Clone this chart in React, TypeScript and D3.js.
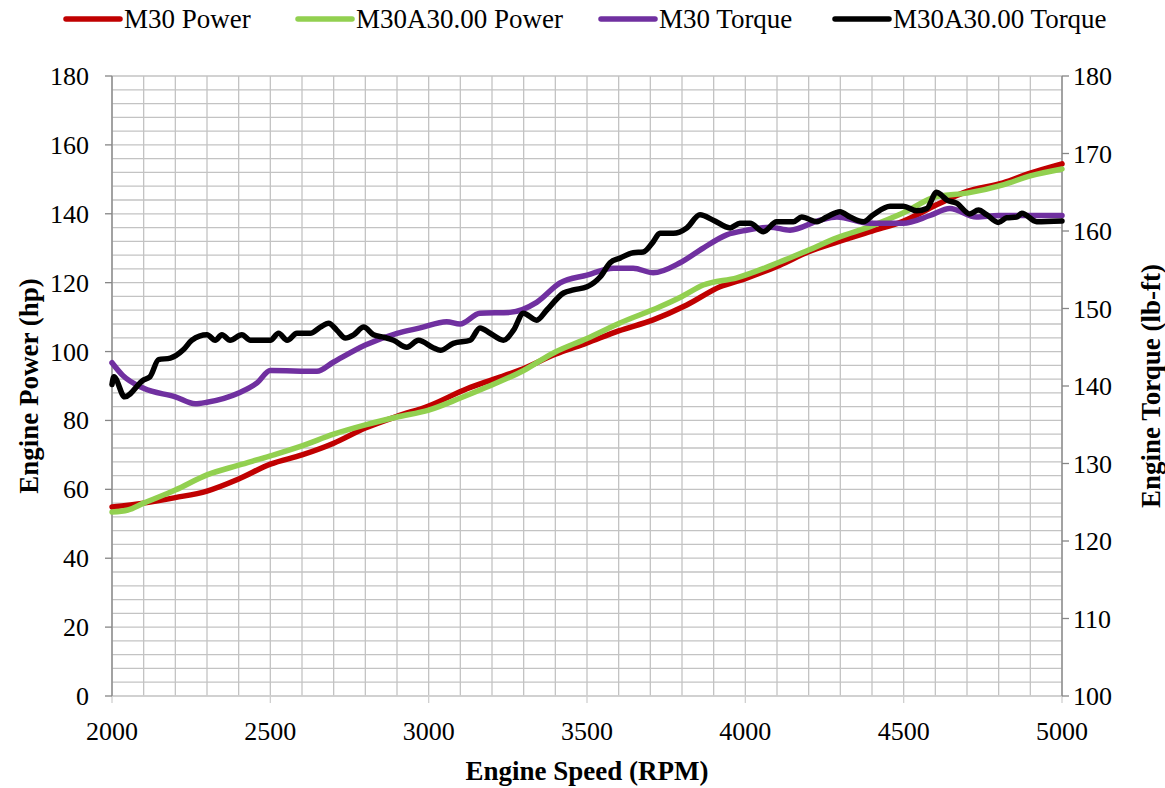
import React from "react";
import * as d3 from "d3";

const W = 1165;
const H = 788;

const m30PowerRpm = [2000, 2100, 2200, 2300, 2400, 2500, 2600, 2700, 2800, 2900, 3000, 3121, 3200, 3288, 3400, 3500, 3600, 3709, 3815, 3920, 4000, 4109, 4200, 4289, 4400, 4498, 4604, 4700, 4814, 4900, 5000];
const m30PowerHp = [54.9, 56, 57.6, 59.5, 63, 67.3, 70, 73.4, 77.8, 81.2, 84.2, 89.2, 91.8, 94.6, 99.2, 102.5, 106, 109.2, 113.5, 118.8, 121.2, 125.1, 129, 131.8, 135, 137.8, 142.6, 146.5, 149, 151.8, 154.5];

const a30PowerRpm = [2000, 2050, 2100, 2200, 2300, 2400, 2500, 2600, 2700, 2800, 2900, 3000, 3100, 3184, 3300, 3394, 3500, 3604, 3730, 3800, 3867, 3973, 4109, 4200, 4289, 4400, 4498, 4604, 4700, 4814, 4900, 5000];
const a30PowerHp = [53.4, 54, 56, 59.8, 64.2, 67, 69.7, 72.6, 76, 78.7, 81, 83, 86.5, 89.7, 94.5, 99.6, 103.8, 108.3, 113, 116, 119.3, 121.4, 126, 129.5, 133, 136.5, 140.2, 145, 146, 148.4, 151, 153];

const m30TorqueRpm = [2000, 2033, 2100, 2200, 2263, 2300, 2400, 2458, 2500, 2647, 2700, 2800, 2900, 2973, 3057, 3099, 3162, 3257, 3341, 3415, 3500, 3583, 3646, 3709, 3794, 3867, 3941, 4004, 4078, 4141, 4236, 4289, 4394, 4498, 4583, 4646, 4730, 4800, 5000];
const m30TorqueLbft = [143.0, 141.4, 139.7, 138.6, 137.7, 137.9, 139.1, 140.4, 142.0, 141.9, 143.1, 145.3, 146.8, 147.5, 148.3, 148.0, 149.4, 149.5, 150.8, 153.3, 154.3, 155.2, 155.2, 154.6, 155.9, 157.8, 159.5, 160.1, 160.5, 160.1, 161.4, 161.8, 161.0, 161.0, 162.0, 162.9, 161.8, 162.0, 162.0];

const a30TorqueRpm = [2000, 2006, 2040, 2100, 2120, 2147, 2184, 2226, 2252, 2300, 2326, 2347, 2373, 2410, 2437, 2500, 2526, 2553, 2584, 2626, 2658, 2684, 2710, 2737, 2763, 2795, 2826, 2858, 2889, 2931, 2968, 3016, 3037, 3078, 3131, 3162, 3194, 3236, 3268, 3299, 3341, 3373, 3426, 3457, 3500, 3542, 3573, 3604, 3646, 3678, 3709, 3730, 3773, 3815, 3857, 3899, 3952, 3983, 4015, 4057, 4099, 4152, 4178, 4226, 4257, 4299, 4331, 4373, 4404, 4457, 4499, 4541, 4573, 4604, 4620, 4636, 4667, 4709, 4736, 4762, 4799, 4825, 4857, 4873, 4920, 5000];
const a30TorqueLbft = [140.2, 141.2, 138.6, 140.8, 141.2, 143.4, 143.6, 144.7, 145.9, 146.6, 145.9, 146.6, 145.9, 146.6, 145.9, 145.9, 146.8, 145.9, 146.8, 146.8, 147.6, 148.1, 147.2, 146.2, 146.6, 147.6, 146.6, 146.3, 145.9, 145.0, 145.9, 144.9, 144.6, 145.5, 145.9, 147.5, 146.8, 145.9, 147.2, 149.4, 148.5, 149.8, 152.0, 152.4, 152.8, 154.1, 155.9, 156.5, 157.2, 157.3, 158.6, 159.7, 159.7, 160.4, 162.1, 161.4, 160.4, 161.0, 161.0, 159.9, 161.2, 161.2, 161.8, 161.2, 161.8, 162.5, 161.8, 161.2, 162.1, 163.2, 163.2, 162.6, 162.9, 165.0, 164.6, 164.0, 163.6, 162.2, 162.7, 162.1, 161.1, 161.7, 161.8, 162.3, 161.2, 161.3];

const xTicks = [2000, 2500, 3000, 3500, 4000, 4500, 5000];
const leftTicks = [0, 20, 40, 60, 80, 100, 120, 140, 160, 180];
const rightTicks = [100, 110, 120, 130, 140, 150, 160, 170, 180];

const legendNames = ["M30 Power", "M30A30.00 Power", "M30 Torque", "M30A30.00 Torque"];
const colors = ["#c00000", "#92d050", "#7030a0", "#000000"];

const FONT = "'Liberation Serif', 'Times New Roman', serif";

export default function App() {
  const left = 112, right = 1062, top = 76, bottom = 696;
  const x = d3.scaleLinear().domain([2000, 5000]).range([left, right]);
  const yL = d3.scaleLinear().domain([0, 180]).range([bottom, top]);
  const yR = d3.scaleLinear().domain([100, 180]).range([bottom, top]);

  const gridX = d3.range(2000, 5001, 100);
  const gridY = d3.range(0, 181, 4);

  const mk = (rpm: number[], vals: number[], ys: d3.ScaleLinear<number, number>) =>
    d3
      .line<number>()
      .x((_, i) => x(rpm[i]))
      .y((v) => ys(v))
      .curve(d3.curveMonotoneX)(vals) || "";

  const series = [
    mk(m30PowerRpm, m30PowerHp, yL),
    mk(a30PowerRpm, a30PowerHp, yL),
    mk(m30TorqueRpm, m30TorqueLbft, yR),
    mk(a30TorqueRpm, a30TorqueLbft, yR),
  ];

  const legendX = [66, 298, 601, 835];

  return (
    <svg width={W} height={H} style={{ position: "absolute", left: 0, top: 0, background: "#fff" }}>
      <rect x={0} y={0} width={W} height={H} fill="#fff" />
      <g stroke="#c3c3c3" strokeWidth={1.3}>
        {gridX.map((g) => (
          <line key={"gx" + g} x1={x(g)} x2={x(g)} y1={top} y2={bottom} />
        ))}
        {gridY.map((g) => (
          <line key={"gy" + g} x1={left} x2={right} y1={yL(g)} y2={yL(g)} />
        ))}
      </g>
      <line x1={left} x2={right} y1={bottom} y2={bottom} stroke="#d0d0d0" strokeWidth={1.3} />
      {xTicks.map((t) => (
        <line key={"xt" + t} x1={x(t)} x2={x(t)} y1={bottom} y2={bottom + 7} stroke="#d0d0d0" strokeWidth={1.3} />
      ))}
      <line x1={left} x2={left} y1={top} y2={bottom} stroke="#868686" strokeWidth={1.3} />
      {leftTicks.map((t) => (
        <line key={"lt" + t} x1={left - 7} x2={left} y1={yL(t)} y2={yL(t)} stroke="#868686" strokeWidth={1.3} />
      ))}
      <line x1={right} x2={right} y1={top} y2={bottom} stroke="#868686" strokeWidth={1.3} />
      {rightTicks.map((t) => (
        <line key={"rt" + t} x1={right} x2={right + 7} y1={yR(t)} y2={yR(t)} stroke="#868686" strokeWidth={1.3} />
      ))}
      <g fontFamily={FONT} fontSize={26} fill="#000">
        {leftTicks.map((t) => (
          <text key={"ll" + t} x={89} y={yL(t) + 9} textAnchor="end">{t}</text>
        ))}
        {rightTicks.map((t) => (
          <text key={"rl" + t} x={1073} y={yR(t) + 9} textAnchor="start">{t}</text>
        ))}
        {xTicks.map((t) => (
          <text key={"xl" + t} x={x(t)} y={740} textAnchor="middle">{t}</text>
        ))}
      </g>
      {series.map((d, i) => (
        <path key={"s" + i} d={d} fill="none" stroke={colors[i]} strokeWidth={5.5} strokeLinejoin="round" strokeLinecap="round" />
      ))}
      <g fontFamily={FONT} fontSize={27} fontWeight="bold" fill="#000">
        <text x={(left + right) / 2} y={780} textAnchor="middle">Engine Speed (RPM)</text>
        <text transform={`translate(38, ${(top + bottom) / 2}) rotate(-90)`} textAnchor="middle">Engine Power (hp)</text>
        <text transform={`translate(1160, ${(top + bottom) / 2}) rotate(-90)`} textAnchor="middle">Engine Torque (lb-ft)</text>
      </g>
      <g fontFamily={FONT} fontSize={27} fill="#000">
        {legendNames.map((n, i) => (
          <g key={"lg" + i}>
            <line x1={legendX[i]} x2={legendX[i] + 54} y1={19} y2={19} stroke={colors[i]} strokeWidth={5.5} strokeLinecap="round" />
            <text x={legendX[i] + 58} y={28}>{n}</text>
          </g>
        ))}
      </g>
    </svg>
  );
}
